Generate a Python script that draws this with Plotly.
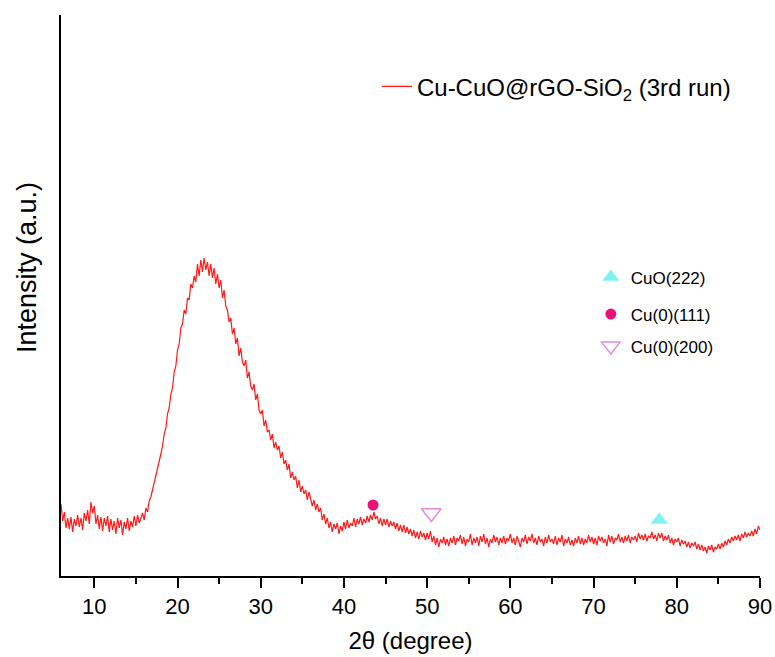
import numpy as np
import plotly.graph_objects as go

# XRD pattern: 2theta from 6 to 90 deg, step 0.2 deg (intensity in arbitrary units)
two_theta_start = 6.0
two_theta_step = 0.2
intensity = [
    72, 55, 64, 48, 58,       # 6
    47, 59, 44, 57, 50,       # 7
    61, 49, 58, 46, 63,       # 8
    55, 66, 52, 74, 63,       # 9
    70, 52, 61, 47, 59,       # 10
    45, 58, 50, 60, 44,       # 11
    57, 46, 55, 42, 58,       # 12
    48, 56, 41, 54, 47,       # 13
    58, 45, 55, 49, 60,       # 14
    50, 61, 53, 58, 63,       # 15
    56, 68, 64, 75, 79,       # 16
    86, 92, 98, 108, 112,     # 17
    122, 130, 142, 148, 162,  # 18
    168, 182, 188, 204, 210,  # 19
    226, 232, 248, 252, 266,  # 20
    262, 278, 276, 292, 288,  # 21
    300, 294, 312, 300, 316,  # 22
    304, 318, 306, 314, 300,  # 23
    312, 298, 308, 292, 302,  # 24
    288, 296, 278, 286, 270,  # 25
    266, 254, 258, 242, 248,  # 26
    232, 238, 220, 228, 214,  # 27
    210, 216, 198, 204, 190,  # 28
    186, 192, 176, 182, 166,  # 29
    162, 166, 150, 156, 144,  # 30
    146, 136, 142, 128, 134,  # 31
    126, 130, 118, 124, 112,  # 32
    116, 106, 112, 98, 104,   # 33
    96, 100, 88, 96, 84,      # 34
    90, 82, 86, 76, 84,       # 35
    78, 70, 76, 66, 72,       # 36
    64, 68, 56, 62, 52,       # 37
    58, 48, 54, 44, 52,       # 38
    47, 53, 42, 50, 45,       # 39
    54, 47, 56, 48, 53,       # 40
    50, 58, 49, 57, 52,       # 41
    59, 51, 57, 53, 60,       # 42
    54, 61, 56, 64, 57,       # 43
    60, 52, 58, 50, 57,       # 44
    51, 57, 49, 55, 50,       # 45
    54, 47, 53, 45, 51,       # 46
    44, 51, 43, 49, 42,       # 47
    47, 40, 46, 38, 44,       # 48
    37, 45, 39, 43, 36,       # 49
    43, 37, 45, 34, 40,       # 50
    31, 38, 29, 37, 33,       # 51
    39, 31, 37, 30, 38,       # 52
    33, 40, 31, 38, 35,       # 53
    41, 32, 39, 30, 37,       # 54
    34, 42, 31, 38, 33,       # 55
    39, 30, 40, 34, 42,       # 56
    32, 38, 29, 37, 33,       # 57
    41, 34, 39, 31, 38,       # 58
    33, 40, 32, 38, 35,       # 59
    42, 33, 38, 31, 40,       # 60
    35, 29, 38, 34, 41,       # 61
    32, 39, 35, 42, 33,       # 62
    38, 31, 40, 34, 37,       # 63
    30, 39, 33, 41, 34,       # 64
    37, 32, 40, 31, 38,       # 65
    34, 41, 30, 37, 33,       # 66
    39, 31, 36, 30, 38,       # 67
    33, 40, 32, 38, 31,       # 68
    37, 33, 41, 34, 39,       # 69
    32, 38, 31, 40, 35,       # 70
    39, 33, 37, 30, 41,       # 71
    34, 40, 32, 38, 36,       # 72
    42, 34, 39, 33, 40,       # 73
    35, 41, 33, 39, 36,       # 74
    40, 34, 43, 37, 41,       # 75
    36, 42, 35, 40, 38,       # 76
    44, 37, 41, 35, 43,       # 77
    38, 43, 35, 40, 36,       # 78
    41, 33, 38, 31, 37,       # 79
    34, 38, 30, 36, 32,       # 80
    35, 29, 34, 28, 33,       # 81
    30, 34, 27, 32, 26,       # 82
    31, 25, 29, 23, 30,       # 83
    26, 31, 24, 29, 27,       # 84
    32, 27, 33, 29, 35,       # 85
    31, 37, 33, 39, 35,       # 86
    40, 36, 41, 35, 42,       # 87
    38, 44, 39, 43, 40,       # 88
    45, 40, 47, 42, 50,       # 89
    46,                       # 90
]
two_theta = two_theta_start + two_theta_step * np.arange(len(intensity))

# Peak markers (position, height of marker)
cuo222_x, cuo222_y = [77.9], [56]
cu111_x, cu111_y = [43.5], [71]
cu200_x, cu200_y = [50.5], [63]

series_name = "Cu-CuO@rGO-SiO<sub>2</sub> (3rd run)"
x_ticks = [10, 20, 30, 40, 50, 60, 70, 80, 90]

FONT = "Arial, Liberation Sans, sans-serif"

fig = go.Figure()
fig.add_trace(go.Scatter(
    x=two_theta, y=intensity, mode="lines", name=series_name,
    line=dict(color="#ff1a1a", width=1.2), legend="legend",
))
fig.add_trace(go.Scatter(
    x=cuo222_x, y=cuo222_y, mode="markers", name="CuO(222)",
    marker=dict(symbol="triangle-up", size=15, color="#80f2f2"), legend="legend2",
))
fig.add_trace(go.Scatter(
    x=cu111_x, y=cu111_y, mode="markers", name="Cu(0)(111)",
    marker=dict(symbol="circle", size=11, color="#ec1177"), legend="legend3",
))
fig.add_trace(go.Scatter(
    x=cu200_x, y=cu200_y, mode="markers", name="Cu(0)(200)",
    marker=dict(symbol="triangle-down-open", size=17, color="#e48ae8",
                line=dict(width=1.5, color="#e48ae8")), legend="legend4",
))

fig.update_layout(
    width=775, height=657,
    margin=dict(l=61, r=15, t=15, b=81, autoexpand=False),
    paper_bgcolor="white", plot_bgcolor="white",
    font=dict(family=FONT, color="black"),
    legend=dict(x=0.452, y=0.872, xanchor="left", yanchor="middle",
                font=dict(size=24, family=FONT), bgcolor="rgba(0,0,0,0)"),
    legend2=dict(x=0.758, y=0.532, xanchor="left", yanchor="middle",
                 font=dict(size=17, family=FONT), bgcolor="rgba(0,0,0,0)"),
    legend3=dict(x=0.758, y=0.466, xanchor="left", yanchor="middle",
                 font=dict(size=17, family=FONT), bgcolor="rgba(0,0,0,0)"),
    legend4=dict(x=0.758, y=0.409, xanchor="left", yanchor="middle",
                 font=dict(size=17, family=FONT), bgcolor="rgba(0,0,0,0)"),
    showlegend=True,
    annotations=[dict(
        text="Intensity (a.u.)", textangle=-90, showarrow=False,
        xref="paper", yref="paper", x=0, y=0.549, xanchor="center", yanchor="middle",
        xshift=-34, font=dict(size=27, family=FONT, color="black"),
    )],
)
fig.update_xaxes(
    range=[6, 90], tickvals=x_ticks, ticktext=[str(v) for v in x_ticks],
    showline=True, linecolor="black", linewidth=2, mirror=False,
    ticks="outside", ticklen=10, tickwidth=1.5, tickcolor="black",
    minor=dict(ticks="outside", ticklen=6, tickwidth=1.5, tickcolor="black", dtick=5, tick0=5),
    tickfont=dict(size=22, family=FONT),
    showgrid=False, zeroline=False, automargin=False,
    title=dict(text="2θ (degree)", font=dict(size=24, family=FONT), standoff=14),
)
fig.update_yaxes(
    range=[0, 561], showline=True, linecolor="black", linewidth=2,
    showticklabels=False, ticks="", showgrid=False, zeroline=False, automargin=False,
)

# remove the default page margin so the 775x657 figure fills the window exactly
fig.write_html("out.html", config={"displayModeBar": False},
               post_script="document.body.style.margin='0';document.body.style.overflow='hidden';")
